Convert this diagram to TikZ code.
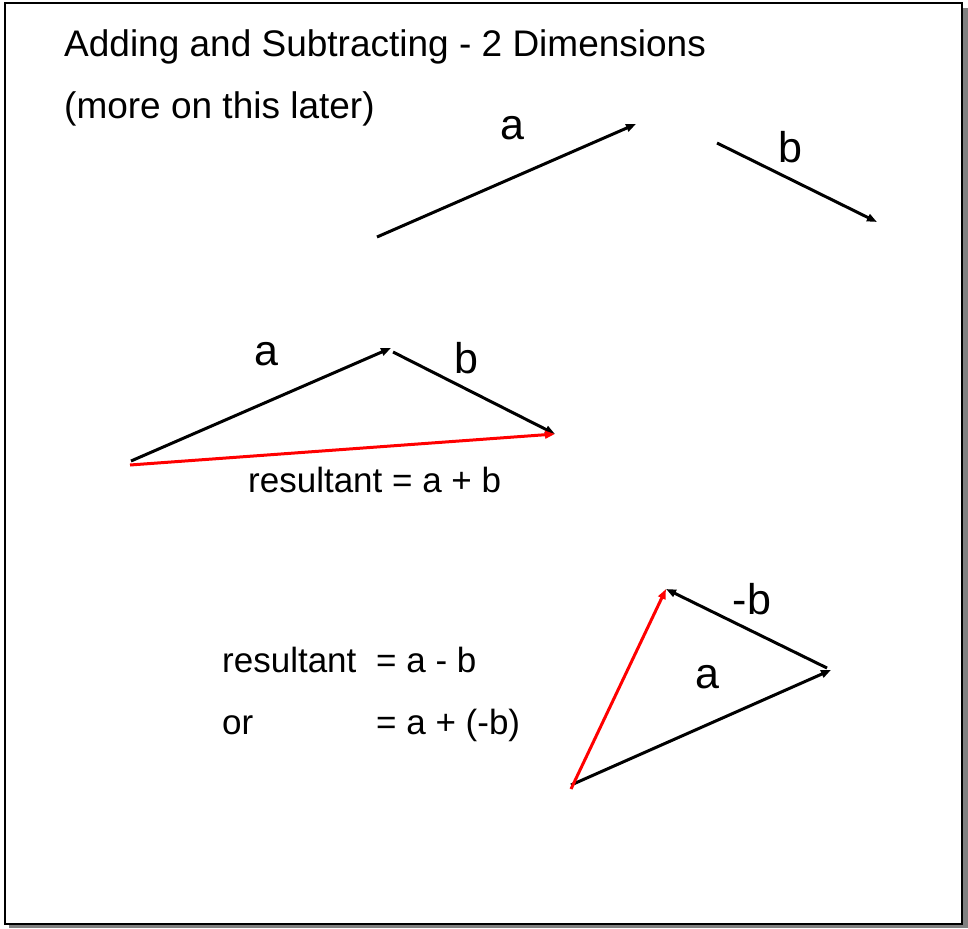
\documentclass[tikz,border=0pt]{standalone}
\usepackage{fontspec}
\setmainfont{Liberation Sans}
\usetikzlibrary{arrows.meta}
\begin{document}
\begin{tikzpicture}[x=1pt,y=-1pt,
  vec/.style={line width=3pt,-{Triangle[length=10pt,width=7.5pt]}},
  redvec/.style={vec,color=red},
  txt/.style={font=\fontsize{35}{42}\selectfont,anchor=base west,inner sep=0pt},
  head/.style={txt,font=\fontsize{37}{44}\selectfont},
  lbl/.style={font=\fontsize{43}{50}\selectfont,anchor=base,inner sep=0pt}]
\useasboundingbox (0,0) rectangle (968,928);
% shadow and frame
\fill[gray] (9,8) rectangle (968,928);
\draw[line width=2.2pt,fill=white] (5,3) rectangle (962,924);
% titles
\node[head] (title) at (64,57) {Adding and Subtracting - 2 Dimensions};
\node[head] (sub) at (64,119) {(more on this later)};
% top vectors
\coordinate (a1s) at (377,237);
\coordinate (a1e) at (636,124);
\coordinate (b1s) at (717,143);
\coordinate (b1e) at (877,222);
\draw[vec] (a1s) -- (a1e);
\draw[vec] (b1s) -- (b1e);
\node[lbl] (la1) at (512,140) {a};
\node[lbl] (lb1) at (790,163) {b};
% middle: a + b
\coordinate (a2s) at (131,461);
\coordinate (a2e) at (391,348);
\coordinate (b2s) at (393,352);
\coordinate (b2e) at (555,434);
\coordinate (r2s) at (130,465);
\draw[vec] (a2s) -- (a2e);
\draw[vec] (b2s) -- (b2e);
\draw[redvec] (r2s) -- (b2e);
\node[lbl] (la2) at (266,365) {a};
\node[lbl] (lb2) at (466,373) {b};
\node[txt] (res1) at (248,492) {resultant = a + b};
% bottom: a - b
\coordinate (a3s) at (571,785);
\coordinate (a3e) at (831,670);
\coordinate (nb3s) at (827,668);
\coordinate (nb3e) at (666,589);
\coordinate (r3s) at (571,789);
\draw[vec] (a3s) -- (a3e);
\draw[vec] (nb3s) -- (nb3e);
\draw[redvec] (r3s) -- (nb3e);
\node[lbl] (lnb3) at (752,614) {-b};
\node[lbl] (la3) at (707,688) {a};
\node[txt] (res2) at (222,672) {resultant};
\node[txt] (eq2) at (376,672) {= a - b};
\node[txt] (or) at (222,734) {or};
\node[txt] (eq3) at (376,734) {= a + (-b)};
\end{tikzpicture}
\end{document}
